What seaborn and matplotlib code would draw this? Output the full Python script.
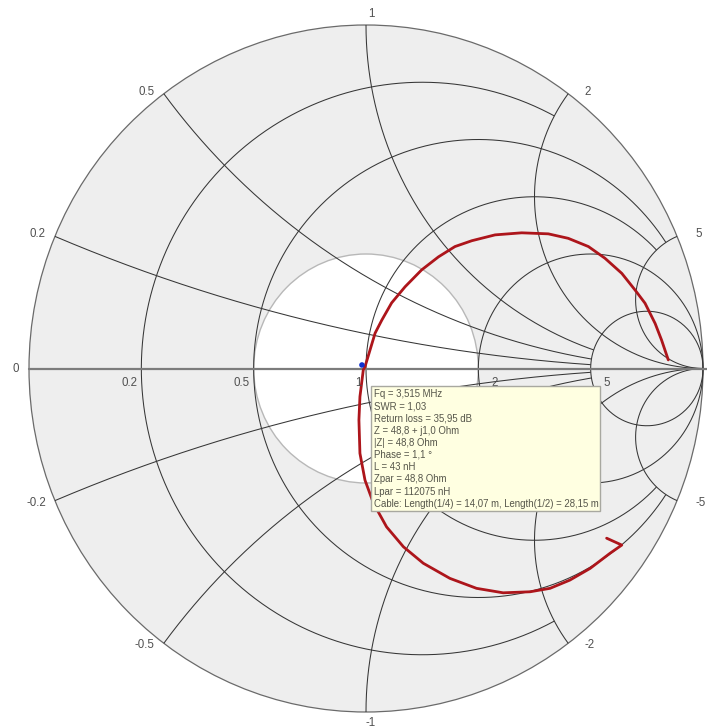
import numpy as np
import pandas as pd
import matplotlib
matplotlib.use("Agg")
import matplotlib.pyplot as plt
import seaborn as sns
from matplotlib import font_manager
from matplotlib.patches import Circle, Rectangle
from matplotlib.transforms import IdentityTransform

# ---------------- data ----------------
resistance_values = [0.2, 0.5, 1.0, 2.0, 5.0]
resistance_max_x = [2.0, 5.0, 5.0, None, None]      # |x| limit where each r-circle stops
resistance_labels = ["0.2", "0.5", "1", "2", "5"]

reactance_values = [0.2, 0.5, 1.0, 2.0, 5.0]
reactance_max_r = [5.0, 5.0, 5.0, None, None]       # r limit where each x-arc stops
reactance_labels_pos = ["0.2", "0.5", "1", "2", "5"]
reactance_labels_neg = ["-0.2", "-0.5", "-1", "-2", "-5"]

swr_circle = 2.0

trace_re = [0.897, 0.877, 0.858, 0.828, 0.798, 0.759, 0.709, 0.660, 0.600, 0.541,
            0.462, 0.383, 0.314, 0.264, 0.215, 0.165, 0.116, 0.076, 0.047, 0.027,
            0.012, -0.003, -0.008, -0.018, -0.021, -0.018, -0.003, 0.022, 0.061, 0.111,
            0.170, 0.249, 0.328, 0.407, 0.487, 0.546, 0.605, 0.665, 0.724, 0.759,
            0.714]
trace_im = [0.025, 0.083, 0.131, 0.190, 0.229, 0.277, 0.321, 0.355, 0.379, 0.392,
            0.395, 0.389, 0.372, 0.355, 0.325, 0.287, 0.238, 0.191, 0.141, 0.103,
            0.054, 0.005, -0.004, -0.082, -0.150, -0.247, -0.325, -0.392, -0.461, -0.519,
            -0.567, -0.611, -0.640, -0.653, -0.650, -0.640, -0.616, -0.582, -0.538, -0.514,
            -0.494]

z0 = 50.0
marker_R = 48.8
marker_X = 1.0

tooltip_lines = [
    "Fq = 3,515 MHz",
    "SWR = 1,03",
    "Return loss = 35,95 dB",
    "Z = 48,8 + j1,0 Ohm",
    "|Z| = 48,8 Ohm",
    "Phase = 1,1 °",
    "L = 43 nH",
    "Zpar = 48,8 Ohm",
    "Lpar = 112075 nH",
    "Cable: Length(1/4) = 14,07 m, Length(1/2) = 28,15 m",
]

# ---------------- style ----------------
sns.set_style("white")
names = {f.name for f in font_manager.fontManager.ttflist}
plt.rcParams["font.family"] = ["Liberation Sans", "DejaVu Sans"]
if "Liberation Sans Narrow" in names:
    tip_family, tip_size = ["Liberation Sans Narrow", "DejaVu Sans"], 8.2
else:
    tip_family, tip_size = ["Liberation Sans", "DejaVu Sans"], 6.9

W, H, DPI = 707, 728, 100
fig = plt.figure(figsize=(W / DPI, H / DPI), dpi=DPI)
ax = fig.add_axes([0, 0, 1, 1])
ax.set_xlim(-366 / 337, (W - 366) / 337)
ax.set_ylim(-(H - 368.5) / 343.5, 368.5 / 343.5)
ax.set_aspect("auto")
ax.axis("off")


def gamma(z):
    return (z - 1) / (z + 1)


# background disc and SWR circle
ax.add_patch(Circle((0, 0), 1.0, facecolor="#eeeeee", edgecolor="#6a6a6a", lw=0.9, zorder=0))
g_swr = (swr_circle - 1) / (swr_circle + 1)
ax.add_patch(Circle((0, 0), g_swr, facecolor="white", edgecolor="#b8b8b8", lw=1.0, zorder=1))

grid_kw = dict(color="#363636", lw=0.75, zorder=2, solid_capstyle="butt")

# resistance circles
for r, xm in zip(resistance_values, resistance_max_x):
    tmax = np.arctan(xm) if xm is not None else np.pi / 2 * 0.99999
    t = np.linspace(-tmax, tmax, 800)
    g = gamma(r + 1j * np.tan(t))
    ax.plot(g.real, g.imag, **grid_kw)

# reactance arcs
for x, rm in zip(reactance_values, reactance_max_r):
    pmax = np.arctan(rm) if rm is not None else np.pi / 2 * 0.99999
    p = np.linspace(0, pmax, 800)
    for s in (1, -1):
        g = gamma(np.tan(p) + 1j * s * x)
        ax.plot(g.real, g.imag, **grid_kw)

# real axis
ax.plot([-1, ax.get_xlim()[1]], [0, 0], color="#7c7c7c", lw=1.6, zorder=3)

# ---------------- labels ----------------
lab_kw = dict(fontsize=8.3, color="#505050", textcoords="offset pixels", zorder=6)
ax.annotate("0", (-1, 0), xytext=(-10, 0), ha="right", va="center", **lab_kw)
for r, lab in zip(resistance_values, resistance_labels):
    gr = (r - 1) / (r + 1)
    if r <= 1:
        ax.annotate(lab, (gr, 0), xytext=(-4, -14), ha="right", va="center", **lab_kw)
    else:
        ax.annotate(lab, (gr, 0), xytext=(13, -14), ha="left", va="center", **lab_kw)

for x, lp, ln in zip(reactance_values, reactance_labels_pos, reactance_labels_neg):
    for s, lab in ((1, lp), (-1, ln)):
        g = gamma(1j * s * x)
        if abs(g.real) < 1e-9:
            ax.annotate(lab, (g.real, g.imag), xytext=(5, 5 * s),
                        ha="center", va="bottom" if s > 0 else "top", **lab_kw)
        elif g.real < 0:
            ax.annotate(lab, (g.real, g.imag), xytext=(-9, 2 * s),
                        ha="right", va="center", **lab_kw)
        else:
            dx = 16 if x < 3 else 18
            ax.annotate(lab, (g.real, g.imag), xytext=(dx, 2 * s),
                        ha="left", va="center", **lab_kw)

# ---------------- trace ----------------
df = pd.DataFrame({"re": trace_re, "im": trace_im})
sns.lineplot(data=df, x="re", y="im", sort=False, estimator=None, ax=ax,
             color="#ad151b", lw=2.0, zorder=4)

zm = complex(marker_R, marker_X) / z0
gm = gamma(zm)
mdf = pd.DataFrame({"re": [gm.real], "im": [gm.imag]})
sns.scatterplot(data=mdf, x="re", y="im", ax=ax, color="#1030d0", s=16,
                edgecolor="none", zorder=5)

# ---------------- tooltip ----------------
fig.canvas.draw()
mx, my = ax.transData.transform((gm.real, gm.imag))
box_left, box_top, box_w, box_h = mx + 9, my - 21, 229, 125
ax.add_patch(Rectangle((box_left, box_top - box_h), box_w, box_h,
                       transform=IdentityTransform(), facecolor="#ffffe1",
                       edgecolor="#a8a8a0", lw=1.0, zorder=6))
for k, line in enumerate(tooltip_lines):
    ax.text(box_left + 3, box_top - 8 - 12.2 * k, line, transform=IdentityTransform(),
            ha="left", va="center", fontsize=tip_size, family=tip_family,
            color="#55554a", zorder=7)

ax.set_xlabel("")
ax.set_ylabel("")
fig.savefig("out.png", dpi=DPI)
